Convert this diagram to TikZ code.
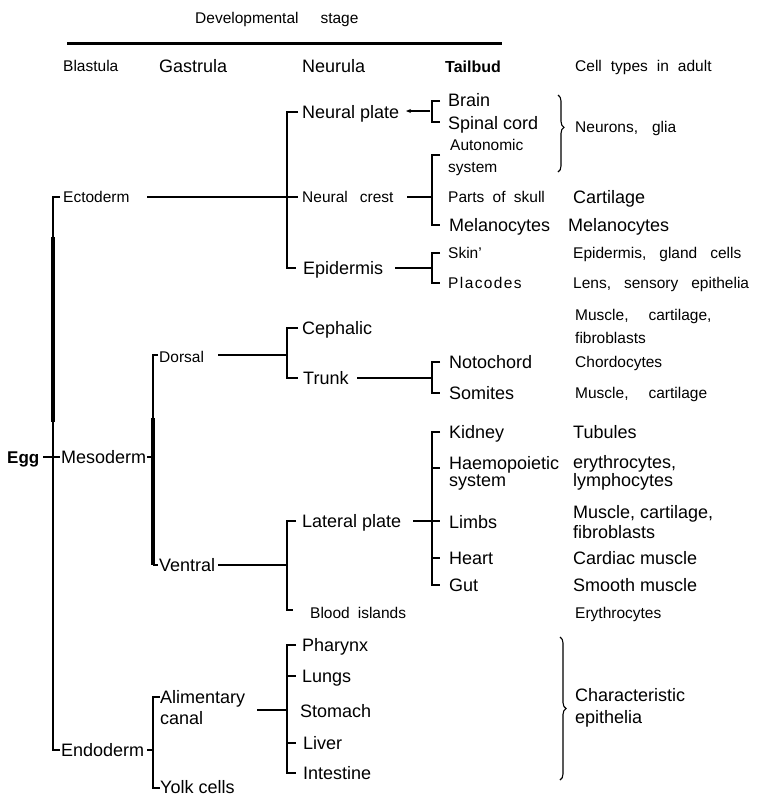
\documentclass[tikz,border=0pt]{standalone}
\usepackage{fontspec}
\setmainfont{Liberation Sans}
\usetikzlibrary{decorations.pathreplacing,arrows.meta}
\begin{document}
\begin{tikzpicture}[x=1pt,y=-1pt,
  reg/.style={font=\fontsize{18}{20}\selectfont,anchor=base west,inner sep=0pt},
  nar/.style={font=\fontsize{15.5}{17}\selectfont,anchor=base west,inner sep=0pt},
  ln/.style={line width=1.4pt},
  thk/.style={line width=4pt},
  brc/.style={decorate,decoration={brace,amplitude=6pt,aspect=#1},line width=1.1pt}]
\fill[white] (0,0) rectangle (764,796);
\useasboundingbox (0,0) rectangle (764,796);
% ---------- header ----------
\node[nar] (dev) at (195,23.5) {Developmental\hspace{22pt}stage};
\coordinate (hl1) at (67,43); \coordinate (hl2) at (502,43);
\draw[line width=3pt] (hl1) -- (hl2);
\node[nar] (blas) at (63,71.5) {Blastula};
\node[reg] (gas) at (159,72.5) {Gastrula};
\node[reg] (neu) at (302,72.5) {Neurula};
\node[reg,font=\fontsize{16}{18}\selectfont\bfseries] (tail) at (445,72) {Tailbud};
\node[nar] (cta) at (575,71.5) {Cell\hspace{9pt}types\hspace{9pt}in\hspace{9pt}adult};
% ---------- ectoderm ----------
\node[nar] (ecto) at (63,202.5) {Ectoderm};
\node[reg] (np) at (302,118.5) {Neural plate};
\node[nar] (nc) at (302,202.5) {Neural\hspace{12pt}crest};
\node[reg] (epi) at (303,274.5) {Epidermis};
\node[reg] (brain) at (448,106) {Brain};
\node[reg] (sc) at (448,129.5) {Spinal cord};
\node[nar] (ng) at (575,132.5) {Neurons,\hspace{14pt}glia};
\node[nar] (auto) at (450,150.5) {Autonomic};
\node[nar] (asys) at (448,172.5) {system};
\node[nar] (pos) at (448,202.5) {Parts\hspace{4pt} of\hspace{4pt} skull};
\node[reg] (cart) at (573,203.5) {Cartilage};
\node[reg] (mel) at (449,231.5) {Melanocytes};
\node[reg] (mel2) at (568,231.5) {Melanocytes};
\node[nar] (skin) at (448,258.5) {Skin'};
\node[nar,font=\fontsize{15.5}{17}\selectfont\addfontfeature{LetterSpace=9}] (plac) at (448,288.5) {Placodes};
\node[nar] (egc) at (573,258.5) {Epidermis,\hspace{13pt}gland\hspace{13pt}cells};
\node[nar] (lse) at (573,288.5) {Lens,\hspace{13pt}sensory\hspace{13pt}epithelia};
% ---------- mesoderm ----------
\node[reg,font=\fontsize{17}{19}\selectfont\bfseries] (egg) at (7,463.5) {Egg};
\node[reg] (meso) at (61,463.5) {Mesoderm};
\node[nar] (dors) at (159,362.5) {Dorsal};
\node[reg] (vent) at (159,571.5) {Ventral};
\node[reg] (ceph) at (302,334.5) {Cephalic};
\node[reg] (trunk) at (303,384.5) {Trunk};
\node[nar] (mcf) at (575,320.5) {Muscle,\hspace{20pt}cartilage,};
\node[nar] (fib1) at (575,343.5) {fibroblasts};
\node[reg] (noto) at (449,368.5) {Notochord};
\node[reg] (somi) at (449,399.5) {Somites};
\node[nar] (chor) at (575,367.5) {Chordocytes};
\node[nar] (mc) at (575,398.5) {Muscle,\hspace{20pt}cartilage};
\node[reg] (lat) at (302,527) {Lateral plate};
\node[reg] (kid) at (449,438.5) {Kidney};
\node[reg] (haem) at (449,469.5) {Haemopoietic};
\node[reg] (hsys) at (449,486.5) {system};
\node[reg] (limb) at (449,528.5) {Limbs};
\node[reg] (heart) at (449,564.5) {Heart};
\node[reg] (gut) at (449,591.5) {Gut};
\node[reg] (tub) at (573,438.5) {Tubules};
\node[reg] (ery) at (573,468.5) {erythrocytes,};
\node[reg] (lym) at (573,486.5) {lymphocytes};
\node[reg] (mcf2) at (573,518.5) {Muscle, cartilage,};
\node[reg] (fib2) at (573,538.5) {fibroblasts};
\node[reg] (card) at (573,564.5) {Cardiac muscle};
\node[reg] (smo) at (573,591.5) {Smooth muscle};
\node[nar] (blood) at (310,618.5) {Blood\hspace{8pt}islands};
\node[nar] (ery2) at (575,618.5) {Erythrocytes};
% ---------- endoderm ----------
\node[reg] (endo) at (61,756.5) {Endoderm};
\node[reg] (alim) at (160,703.5) {Alimentary};
\node[reg] (canal) at (160,724.5) {canal};
\node[reg] (yolk) at (160,793.5) {Yolk cells};
\node[reg] (phar) at (302,651.5) {Pharynx};
\node[reg] (lung) at (302,682.5) {Lungs};
\node[reg] (stom) at (300,717.5) {Stomach};
\node[reg] (liver) at (303,749.5) {Liver};
\node[reg] (int) at (303,779.5) {Intestine};
\node[reg] (char) at (575,701.5) {Characteristic};
\node[reg] (epit) at (575,723.5) {epithelia};
% ---------- junction coordinates ----------
\coordinate (m0) at (53,197); \coordinate (m1) at (53,237);
\coordinate (m2) at (53,422); \coordinate (m3) at (53,750);
\coordinate (eggR) at (43,457); \coordinate (mesoL) at (60,457);
\coordinate (ectoR) at (147,197);
\coordinate (n0) at (287,112); \coordinate (n1) at (287,197); \coordinate (n2) at (287,268);
\coordinate (npR) at (430,111); \coordinate (npA) at (406,111);
\coordinate (b0) at (432,101); \coordinate (b1) at (432,122);
\coordinate (ncR) at (407,197); \coordinate (c0) at (432,155); \coordinate (c1) at (432,225); \coordinate (cm) at (432,197);
\coordinate (epR) at (395,268); \coordinate (e0) at (432,253); \coordinate (e1) at (432,283); \coordinate (em) at (432,268);
\coordinate (mesoR) at (147,457);
\coordinate (v0) at (153,355); \coordinate (v1) at (153,418); \coordinate (v2) at (153,565); \coordinate (vm) at (153,457);
\coordinate (dorR) at (218,355); \coordinate (d0) at (287,328); \coordinate (d1) at (287,378); \coordinate (dm) at (287,355);
\coordinate (trR) at (357,378); \coordinate (t0) at (432,362); \coordinate (t1) at (432,393); \coordinate (tm) at (432,378);
\coordinate (venR) at (218,565); \coordinate (l0) at (287,521); \coordinate (l1) at (287,610); \coordinate (lm) at (287,565);
\coordinate (latR) at (413,521); \coordinate (latE) at (440,521); \coordinate (k0) at (432,432); \coordinate (k1) at (432,585);
\coordinate (kh) at (432,468); \coordinate (kt) at (432,558);
\coordinate (endR) at (147,750); \coordinate (a0) at (153,697); \coordinate (a1) at (153,788); \coordinate (am) at (153,750);
\coordinate (alR) at (257,710); \coordinate (p0) at (287,645); \coordinate (p1) at (287,773); \coordinate (pm) at (287,710);
\coordinate (pl) at (287,676); \coordinate (pv) at (287,743);
\coordinate (br1a) at (558,95); \coordinate (br1b) at (558,172);
\coordinate (br2a) at (560,637); \coordinate (br2b) at (560,780);
% ---------- connectors ----------
\draw[ln] ([xshift=7pt]m0) -- (m0) -- (m1);
\draw[thk] (m1) -- (m2);
\draw[ln] (m2) -- (m3) -- ([xshift=7pt]m3);
\draw[ln] (eggR) -- (mesoL);
\draw[ln] (ectoR) -- (n1) -- ([xshift=11pt]n1);
\draw[ln] ([xshift=11pt]n0) -- (n0) -- (n2) -- ([xshift=9pt]n2);
\draw[ln,-{Stealth[length=5pt,width=4pt]}] (npR) -- (npA);
\draw[ln] ([xshift=8pt]b0) -- (b0) -- (b1) -- ([xshift=8pt]b1);
\draw[brc=0.42] (br1a) -- (br1b);
\draw[ln] (ncR) -- (cm);
\draw[ln] ([xshift=8pt]c0) -- (c0) -- (c1) -- ([xshift=8pt]c1);
\draw[ln] (epR) -- (em);
\draw[ln] ([xshift=8pt]e0) -- (e0) -- (e1) -- ([xshift=8pt]e1);
\draw[ln] (mesoR) -- (vm);
\draw[ln] ([xshift=5pt]v0) -- (v0) -- (v1);
\draw[thk] (v1) -- (v2);
\draw[ln] (v2) -- ([xshift=5pt]v2);
\draw[ln] (dorR) -- (dm);
\draw[ln] ([xshift=11pt]d0) -- (d0) -- (d1) -- ([xshift=11pt]d1);
\draw[ln] (trR) -- (tm);
\draw[ln] ([xshift=8pt]t0) -- (t0) -- (t1) -- ([xshift=8pt]t1);
\draw[ln] (venR) -- (lm);
\draw[ln] ([xshift=9pt]l0) -- (l0) -- (l1) -- ([xshift=6pt]l1);
\draw[ln] (latR) -- (latE);
\draw[ln] ([xshift=8pt]k0) -- (k0) -- (k1) -- ([xshift=8pt]k1);
\draw[ln] (kh) -- ([xshift=8pt]kh);
\draw[ln] (kt) -- ([xshift=8pt]kt);
\draw[ln] (endR) -- (am);
\draw[ln] ([xshift=7pt]a0) -- (a0) -- (a1) -- ([xshift=7pt]a1);
\draw[ln] (alR) -- (pm);
\draw[ln] ([xshift=9pt]p0) -- (p0) -- (p1) -- ([xshift=9pt]p1);
\draw[ln] (pl) -- ([xshift=9pt]pl);
\draw[ln] (pv) -- ([xshift=9pt]pv);
\draw[brc=0.5] (br2a) -- (br2b);
\end{tikzpicture}
\end{document}
